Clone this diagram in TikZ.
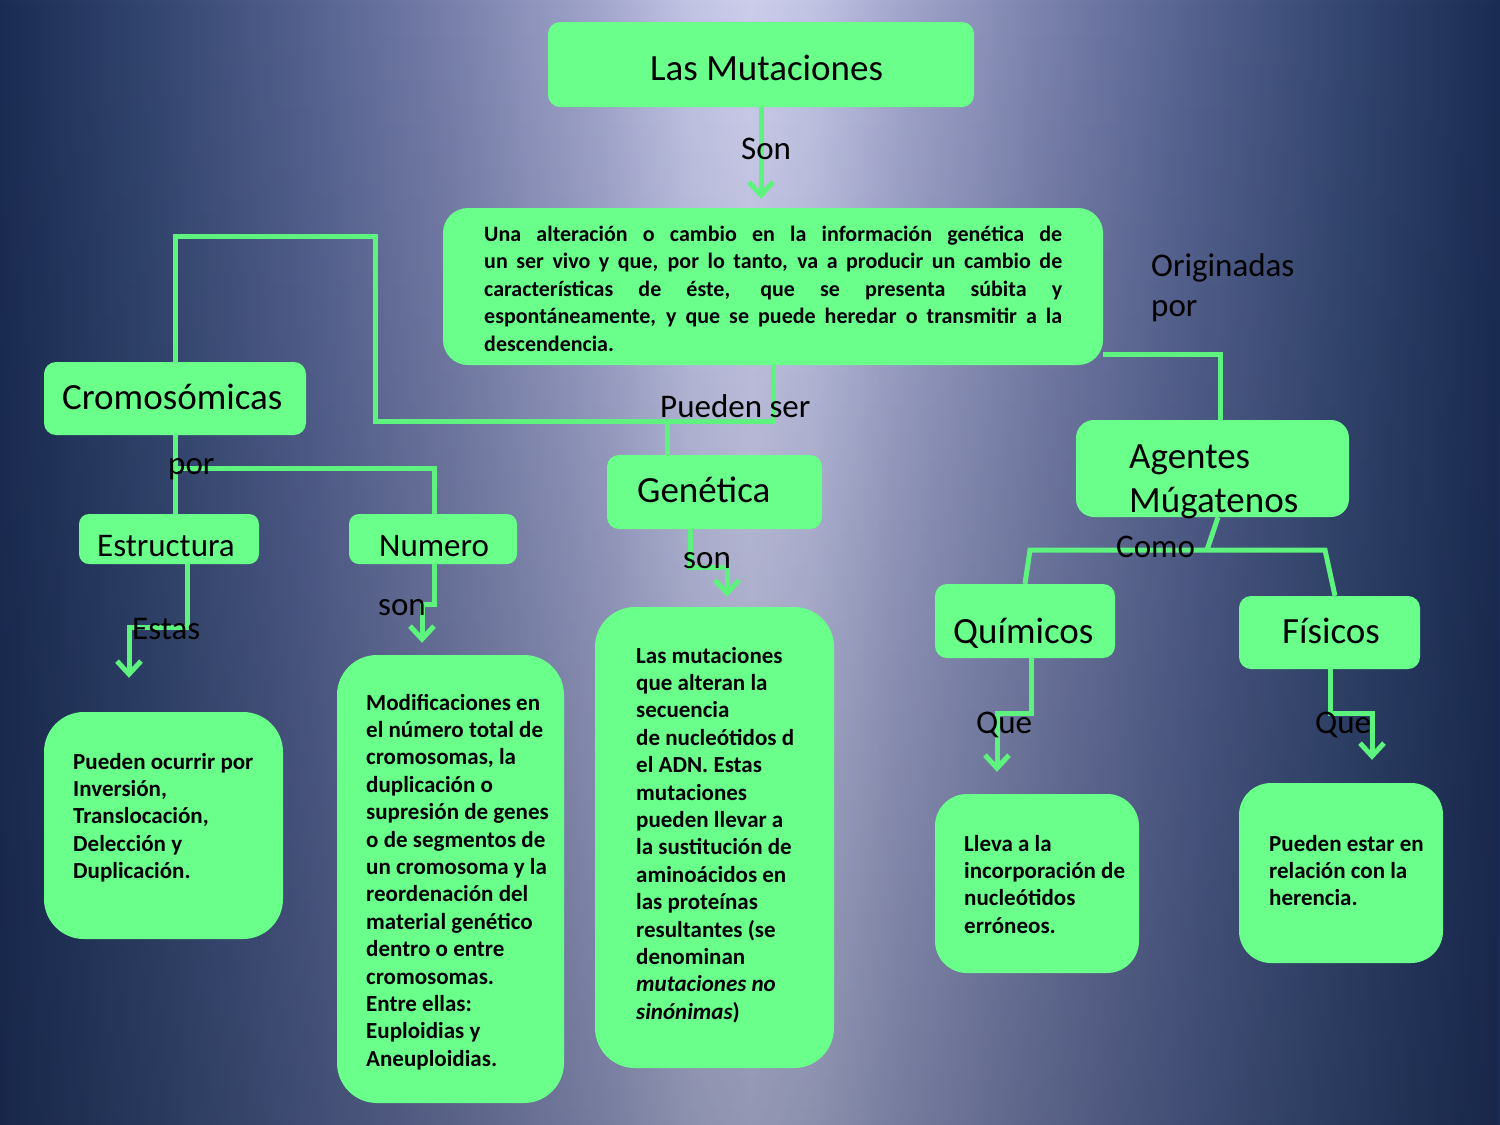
\documentclass[tikz,border=0pt]{standalone}
\usepackage{fontspec}
\setmainfont{Carlito}
\usetikzlibrary{arrows.meta,fadings}
\definecolor{boxg}{HTML}{69FF8A}
\definecolor{lineg}{HTML}{5EF27E}
\definecolor{bgA}{HTML}{1B2C54}
\definecolor{bgB}{HTML}{33466F}
\definecolor{bgC}{HTML}{53608E}
\definecolor{bgD}{HTML}{7880AB}
\definecolor{bgE}{HTML}{A2A6CC}
\definecolor{bgF}{HTML}{C2C4E4}
\definecolor{bgG}{HTML}{CCCDEB}
\pgfdeclarehorizontalshading{bgh}{100bp}{color(0bp)=(bgA); color(25bp)=(bgA); color(30bp)=(bgB); color(35bp)=(bgC); color(40bp)=(bgD); color(45bp)=(bgE); color(48bp)=(bgF); color(50bp)=(bgG); color(52bp)=(bgF); color(55bp)=(bgE); color(60bp)=(bgD); color(65bp)=(bgC); color(70bp)=(bgB); color(75bp)=(bgA); color(100bp)=(bgA)}
\pgfdeclarelayer{bgl}
\pgfdeclarelayer{lnl}
\pgfsetlayers{bgl,lnl,main}
\tikzset{
  bx/.style={fill=boxg, draw=none, inner sep=0pt},
  ln/.style={draw=lineg, line width=5pt},
  arr/.style={ln, -{Straight Barb[length=13pt,width=24pt]}},
  lab/.style={font=\fontsize{33}{40}\selectfont, inner sep=0pt, anchor=base west},
  ttl/.style={font=\fontsize{37}{44}\selectfont, inner sep=0pt, anchor=base west},
  dsc/.style={font=\bfseries\fontsize{23}{27.4}\selectfont, inner sep=0pt, anchor=base west},
}
\begin{document}
\begin{tikzpicture}[x=1pt,y=-1pt]
\useasboundingbox (0,0) rectangle (1500,1125);
\begin{pgfonlayer}{bgl}
  \shade[shading=bgh] (0,0) rectangle (1500,1125);
  \fill[bgA!60!black, opacity=0.3, path fading=north] (0,0) rectangle (1500,1125);
\end{pgfonlayer}

% boxes
\node[bx, rounded corners=12pt, minimum width=426pt, minimum height=85pt] (mut) at (761,64.5) {};
\node[bx, rounded corners=25pt, minimum width=660pt, minimum height=157pt] (def) at (773,286.5) {};
\node[bx, rounded corners=12pt, minimum width=262pt, minimum height=73pt] (crom) at (175,398.5) {};
\node[bx, rounded corners=10pt, minimum width=180pt, minimum height=50pt] (est) at (169,539) {};
\node[bx, rounded corners=10pt, minimum width=168pt, minimum height=50pt] (num) at (433,539) {};
\node[bx, rounded corners=12pt, minimum width=215pt, minimum height=74pt] (gen) at (714.5,492) {};
\node[bx, rounded corners=18pt, minimum width=273pt, minimum height=97pt] (age) at (1212.5,468.5) {};
\node[bx, rounded corners=12pt, minimum width=180pt, minimum height=74pt] (qui) at (1025,621) {};
\node[bx, rounded corners=12pt, minimum width=181pt, minimum height=73pt] (fis) at (1329.5,632.5) {};
\node[bx, rounded corners=40pt, minimum width=239pt, minimum height=227pt] (estd) at (163.5,825.5) {};
\node[bx, rounded corners=40pt, minimum width=227pt, minimum height=448pt] (numd) at (450.5,879) {};
\node[bx, rounded corners=40pt, minimum width=239pt, minimum height=461pt] (gend) at (714.5,837.5) {};
\node[bx, rounded corners=32pt, minimum width=204pt, minimum height=179pt] (quid) at (1037,883.5) {};
\node[bx, rounded corners=32pt, minimum width=204pt, minimum height=180pt] (fisd) at (1341,873) {};

% connectors
\begin{pgfonlayer}{lnl}
  \draw[arr, shorten >=9pt] (mut.south) -- (mut.south |- def.north);
  \draw[ln] (def.south) -- (def.south |- 0,421) -- (375,421) -- (375,236) -- (crom.north |- 0,236) -- (crom.north);
  \draw[ln] (667,421) -- (667,421 |- gen.north);
  \draw[ln] (crom.south) -- (crom.south |- est.north);
  \draw[ln] (crom.south |- 0,468) -- (434,468) -- (434,468 |- num.north);
  \draw[arr, shorten >=34pt] (187,0 |- est.south) -- (187,627) -- (129,627) -- (129,627 |- estd.north);
  \draw[arr, shorten >=12pt] (434,0 |- num.south) -- (434,604) -- (422,604) -- (422,604 |- numd.north);
  \draw[arr, shorten >=10pt] (690,0 |- gen.south) -- (690,567) -- (727,567) -- (727,567 |- gend.north);
  \draw[ln] (def.east |- 0,354) -- (1220,354) -- (1220,354 |- age.north);
  \draw[ln] (1218,0 |- age.south) -- (1207,550);
  \draw[ln] (1025,0 |- qui.north) -- (1030,550) -- (1325,550) -- (1335,0 |- fis.north);
  \draw[arr, shorten >=22pt] (1031,0 |- qui.south) -- (1031,713) -- (997,713) -- (997,713 |- quid.north);
  \draw[arr, shorten >=23pt] (1330,0 |- fis.south) -- (1330,713) -- (1372,713) -- (1372,713 |- fisd.north);
\end{pgfonlayer}

% titles
\node[ttl] (tmut) at (650,80) {Las Mutaciones};
\node[ttl] (tcrom) at (62,409) {Cromosómicas};
\node[ttl] (tgen) at (637,502) {Genética};
\node[ttl] (tage) at (1129,468) {\parbox[t]{200pt}{\baselineskip=44pt Agentes\\Múgatenos}};
\node[ttl] (tqui) at (953,643) {Químicos};
\node[ttl] (tfis) at (1282,643) {Físicos};
\node[lab] (test) at (97,556) {Estructura};
\node[lab] (tnum) at (379,556) {Numero};

% connector labels
\node[lab] (lson) at (741,159) {Son};
\node[lab] (lpue) at (660,417) {Pueden ser};
\node[lab] (lori) at (1151,276) {\parbox[t]{200pt}{\baselineskip=40pt Originadas\\por}};
\node[lab] (lpor) at (168,474) {por};
\node[lab] (lestas) at (132,639) {Estas};
\node[lab] (lson2) at (378,615) {son};
\node[lab] (lson3) at (683,568) {son};
\node[lab] (lcomo) at (1116,557) {Como};
\node[lab] (lque1) at (976,733) {Que};
\node[lab] (lque2) at (1315,733) {Que};

% descriptions
\node[dsc, font=\bfseries\fontsize{22}{27.5}\selectfont] (tdef) at (484,241) {\parbox[t]{578pt}{Una alteración o cambio en la información genética de\linebreak un ser vivo y que, por lo tanto, va a producir un cambio de\linebreak características de éste, que se presenta súbita y\linebreak espontáneamente, y que se puede heredar o transmitir a la\linebreak descendencia.}};
\node[dsc] (testd) at (73,769) {\parbox[t]{220pt}{\raggedright Pueden ocurrir por\\Inversión,\\Translocación,\\Delección y\\Duplicación.}};
\node[dsc] (tnumd) at (366,710) {\parbox[t]{220pt}{\raggedright Modificaciones en\\el número total de\\cromosomas, la\\duplicación o\\supresión de genes\\o de segmentos de\\un cromosoma y la\\reordenación del\\material genético\\dentro o entre\\cromosomas.\\Entre ellas:\\Euploidias y\\Aneuploidias.}};
\node[dsc] (tgend) at (636,663) {\parbox[t]{220pt}{\raggedright Las mutaciones\\que alteran la\\secuencia\\de nucleótidos d\\el ADN. Estas\\mutaciones\\pueden llevar a\\la sustitución de\\aminoácidos en\\las proteínas\\resultantes (se\\denominan\\\textit{mutaciones no}\\\textit{sinónimas})}};
\node[dsc] (tquid) at (964,851) {\parbox[t]{200pt}{\raggedright Lleva a la\\incorporación de\\nucleótidos\\erróneos.}};
\node[dsc] (tfisd) at (1269,851) {\parbox[t]{200pt}{\raggedright Pueden estar en\\relación con la\\herencia.}};
\end{tikzpicture}
\end{document}
